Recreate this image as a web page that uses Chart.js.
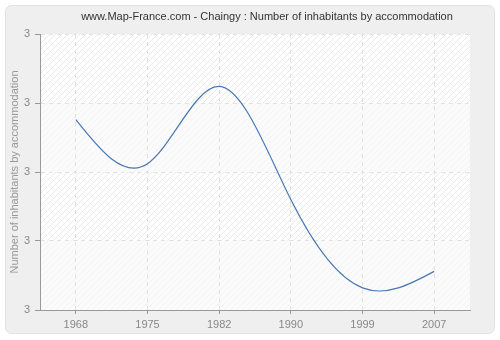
<!DOCTYPE html>
<html>
<head>
<meta charset="utf-8">
<script src="https://cdn.jsdelivr.net/npm/chart.js@4"></script>
<style>
html,body{margin:0;padding:0;background:#fff;}
#wrap{width:500px;height:340px;position:relative;}
</style>
</head>
<body>
<div id="wrap"><canvas id="c" width="500" height="340"></canvas></div>
<script>
const titleText = "www.Map-France.com - Chaingy : Number of inhabitants by accommodation";
const yAxisTitle = "Number of inhabitants by accommodation";
const years = ["1968", "1975", "1982", "1990", "1999", "2007"];
const inhabitants = [3.038, 3.006, 3.062, 2.980, 2.916, 2.928];
const yMin = 2.9, yMax = 3.1, yStep = 0.05;

const FONT = "'Liberation Sans', Arial, sans-serif";

function makePattern(ctx, bg, line) {
  const p = document.createElement('canvas');
  p.width = 6; p.height = 6;
  const g = p.getContext('2d');
  g.fillStyle = bg; g.fillRect(0, 0, 6, 6);
  g.strokeStyle = line; g.lineWidth = 1;
  g.beginPath();
  g.moveTo(-1, 7); g.lineTo(7, -1);
  g.moveTo(-1, 1); g.lineTo(1, -1);
  g.moveTo(5, 7); g.lineTo(7, 5);
  g.stroke();
  return ctx.createPattern(p, 'repeat');
}

const bgPlugin = {
  id: 'bg',
  beforeDraw(chart) {
    const ctx = chart.ctx;
    ctx.save();
    ctx.fillStyle = '#ffffff';
    ctx.fillRect(0, 0, chart.width, chart.height);
    const x = 5.5, y = 5.5, w = 489, h = 328, r = 6;
    ctx.beginPath();
    ctx.moveTo(x + r, y);
    ctx.arcTo(x + w, y, x + w, y + h, r);
    ctx.arcTo(x + w, y + h, x, y + h, r);
    ctx.arcTo(x, y + h, x, y, r);
    ctx.arcTo(x, y, x + w, y, r);
    ctx.closePath();
    ctx.fillStyle = '#efefef';
    ctx.fill();
    ctx.strokeStyle = '#e2e2e2';
    ctx.lineWidth = 1;
    ctx.stroke();
    const a = chart.chartArea;
    const ys = chart.scales.y;
    const dark = makePattern(ctx, '#ffffff', '#e9e9e9');
    const light = makePattern(ctx, '#fbfbfb', '#f3f3f3');
    const ticks = ys.ticks.map(t => t.value);
    for (let i = 0; i < ticks.length - 1; i++) {
      const top = ys.getPixelForValue(ticks[i + 1]);
      const bot = ys.getPixelForValue(ticks[i]);
      const fromTop = ticks.length - 2 - i;
      ctx.fillStyle = (fromTop % 2 === 0) ? dark : light;
      ctx.fillRect(a.left, top, a.right - a.left, bot - top);
    }
    ctx.fillStyle = '#333333';
    ctx.font = "11px " + FONT;
    ctx.textAlign = 'center';
    ctx.textBaseline = 'middle';
    ctx.fillText(titleText, 267, 17);
    ctx.restore();
  }
};

// Natural cubic spline through the points placed by the scales
const naturalSplinePlugin = {
  id: 'naturalSpline',
  beforeDatasetsDraw(chart) {
    chart.data.datasets.forEach((ds, di) => {
      const meta = chart.getDatasetMeta(di);
      const line = meta.dataset;
      const pts = meta.data;
      const n = pts.length;
      if (!line || n < 3) return;
      line.updateControlPoints(chart.chartArea, 'x');
      const X = pts.map(p => p.x), Y = pts.map(p => p.y);
      const H = [];
      for (let i = 0; i < n - 1; i++) H.push(X[i + 1] - X[i]);
      // solve tridiagonal system for second derivatives (natural ends)
      const M = new Array(n).fill(0);
      const a = [], b = [], c = [], d = [];
      for (let i = 1; i < n - 1; i++) {
        a.push(H[i - 1]);
        b.push(2 * (H[i - 1] + H[i]));
        c.push(H[i]);
        d.push(6 * ((Y[i + 1] - Y[i]) / H[i] - (Y[i] - Y[i - 1]) / H[i - 1]));
      }
      const m = b.length;
      for (let i = 1; i < m; i++) {
        const w = a[i] / b[i - 1];
        b[i] -= w * c[i - 1];
        d[i] -= w * d[i - 1];
      }
      const sol = new Array(m);
      sol[m - 1] = d[m - 1] / b[m - 1];
      for (let i = m - 2; i >= 0; i--) sol[i] = (d[i] - c[i] * sol[i + 1]) / b[i];
      for (let i = 0; i < m; i++) M[i + 1] = sol[i];
      const S = new Array(n);
      for (let i = 0; i < n - 1; i++) {
        S[i] = (Y[i + 1] - Y[i]) / H[i] - H[i] * (2 * M[i] + M[i + 1]) / 6;
      }
      S[n - 1] = (Y[n - 1] - Y[n - 2]) / H[n - 2] + H[n - 2] * (M[n - 2] + 2 * M[n - 1]) / 6;
      for (let i = 0; i < n; i++) {
        const p = pts[i];
        const hp = i > 0 ? H[i - 1] : 0;
        const hn = i < n - 1 ? H[i] : 0;
        p.cp1x = X[i] - hp / 3; p.cp1y = Y[i] - S[i] * hp / 3;
        p.cp2x = X[i] + hn / 3; p.cp2y = Y[i] + S[i] * hn / 3;
      }
      line._path = undefined;
    });
  }
};

new Chart(document.getElementById('c'), {
  type: 'line',
  data: {
    labels: years,
    datasets: [{
      data: inhabitants,
      borderColor: '#4a78b1',
      borderWidth: 1.2,
      pointRadius: 0,
      tension: 0.4,
      fill: false
    }]
  },
  options: {
    responsive: false,
    animation: false,
    devicePixelRatio: 1,
    layout: { padding: { left: 0, right: 30, top: 34, bottom: 0 } },
    plugins: {
      legend: { display: false },
      tooltip: { enabled: false },
      title: { display: false }
    },
    scales: {
      x: {
        type: 'category',
        offset: true,
        grid: {
          offset: false,
          color: '#e2e2e2',
          lineWidth: 1,
          drawTicks: true,
          tickLength: 4,
          tickColor: '#999999',
          tickBorderDash: [],
          tickWidth: 1
        },
        border: { display: true, color: '#999999', width: 1, dash: [4, 4] },
        ticks: {
          color: '#888888',
          font: { family: FONT, size: 11 },
          padding: 4,
          maxRotation: 0,
          autoSkip: false
        },
        afterFit(s) { s.height = 30; }
      },
      y: {
        min: yMin,
        max: yMax,
        grid: {
          color: '#e2e2e2',
          lineWidth: 1,
          drawTicks: true,
          tickLength: 5,
          tickColor: '#999999',
          tickBorderDash: [],
          tickWidth: 1
        },
        border: { display: true, color: '#999999', width: 1, dash: [4, 4] },
        ticks: {
          stepSize: yStep,
          color: '#888888',
          font: { family: FONT, size: 11 },
          padding: 5,
          callback: (v) => String(Math.round(v))
        },
        title: {
          display: true,
          text: yAxisTitle,
          color: '#999999',
          font: { family: FONT, size: 11 },
          padding: { top: 8, bottom: 0 }
        },
        afterFit(s) { s.width = 40; }
      }
    }
  },
  plugins: [bgPlugin, naturalSplinePlugin]
});
</script>
</body>
</html>
